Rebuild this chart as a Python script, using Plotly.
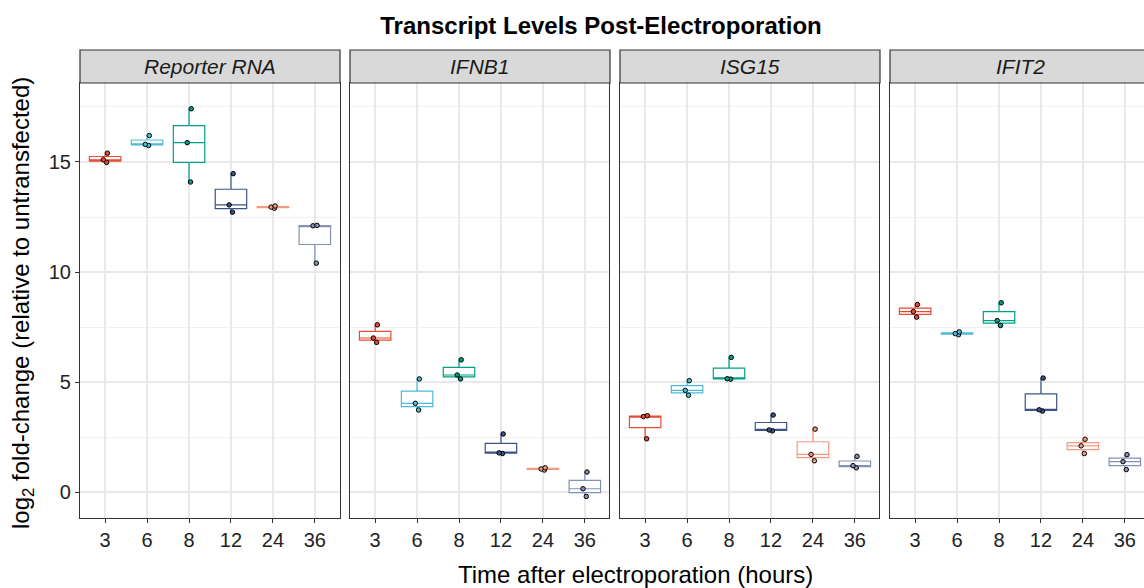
import plotly.graph_objects as go

times = ["3", "6", "8", "12", "24", "36"]
genes = ["Reporter RNA", "IFNB1", "ISG15", "IFIT2"]
colors = ["#E64B35", "#4DBBD5", "#00A087", "#3C5488", "#F39B7F", "#8491B4"]

reporter_rna = [[14.98, 15.1, 15.4], [15.75, 15.8, 16.2], [14.09, 15.88, 17.42],
                [12.72, 13.05, 14.47], [12.9, 12.95, 13.0], [10.4, 12.1, 12.12]]
ifnb1 = [[6.8, 7.0, 7.6], [3.73, 4.03, 5.14], [5.14, 5.32, 6.01],
         [1.75, 1.78, 2.64], [1.0, 1.05, 1.1], [-0.2, 0.15, 0.91]]
isg15 = [[2.42, 3.43, 3.47], [4.4, 4.62, 5.06], [5.13, 5.15, 6.12],
         [2.78, 2.82, 3.5], [1.42, 1.71, 2.86], [1.1, 1.2, 1.62]]
ifit2 = [[7.95, 8.2, 8.52], [7.15, 7.2, 7.28], [7.57, 7.79, 8.6],
         [3.68, 3.74, 5.18], [1.75, 2.1, 2.4], [1.02, 1.38, 1.7]]
gene_data = [reporter_rna, ifnb1, isg15, ifit2]

W, H = 1144, 588
ml, mr, mt, mb = 80, 0, 83, 70
pw = W - ml - mr
ph = H - mt - mb
panel_px = [(80, 340), (350, 609), (620, 879), (890, 1144)]
unit = 260 / 6.2
FONT = "Liberation Sans, Arial, sans-serif"

fig = go.Figure()
for gi, gname in enumerate(genes):
    ax = "" if gi == 0 else str(gi + 1)
    for ti, t in enumerate(times):
        vals = gene_data[gi][ti]
        fig.add_trace(go.Box(
            x=[t] * len(vals), y=vals, name=t,
            xaxis="x" + ax, yaxis="y" + ax,
            width=0.75, whiskerwidth=0, fillcolor="white",
            line=dict(color=colors[ti], width=1.2),
            boxpoints="all", jitter=0.18, pointpos=0, quartilemethod="inclusive",
            marker=dict(color=colors[ti], size=4.5, line=dict(color="black", width=1)),
            showlegend=False, hoverinfo="y",
        ))

layout = dict(
    width=W, height=H,
    margin=dict(l=ml, r=mr, t=mt, b=mb),
    paper_bgcolor="white", plot_bgcolor="white",
    font=dict(family=FONT, color="black"),
    boxmode="overlay",
    title=dict(text="<b>Transcript Levels Post-Electroporation</b>", x=601 / W, xanchor="center",
               y=1 - 26 / H, yanchor="middle", yref="container",
               font=dict(size=24, family=FONT, color="black")),
)

shapes = []
annotations = []
for gi, gname in enumerate(genes):
    ax = "" if gi == 0 else str(gi + 1)
    x0p, x1p = panel_px[gi]
    xr_end = -0.6 + (x1p - x0p) / unit
    layout["xaxis" + ax] = dict(
        domain=[(x0p - ml) / pw, (x1p - ml) / pw], anchor="y" + ax,
        type="category", categoryorder="array", categoryarray=times,
        range=[-0.6, xr_end], showgrid=True, gridcolor="#E9E9E9", gridwidth=1.5,
        showline=True, linecolor="#333333", linewidth=1.2, mirror=True,
        ticks="outside", ticklen=4, tickcolor="#333333", tickwidth=1,
        tickfont=dict(size=20, color="#222222"), zeroline=False,
    )
    layout["yaxis" + ax] = dict(
        domain=[0, 1], anchor="x" + ax, range=[-1.18, 18.59],
        tick0=0, dtick=5, showgrid=True, gridcolor="#E9E9E9", gridwidth=1.5,
        minor=dict(dtick=2.5, showgrid=True, gridcolor="#F1F1F1", gridwidth=0.8),
        showline=True, linecolor="#333333", linewidth=1.2,
        mirror=(gi < 3), zeroline=False,
        ticks="outside" if gi == 0 else "", ticklen=4, tickcolor="#333333",
        showticklabels=(gi == 0), tickfont=dict(size=20, color="#222222"),
        matches="y" if gi > 0 else None,
    )
    strip_h = 33 / ph
    full_x1 = (x0p + 260 - ml) / pw
    shapes.append(dict(type="rect", xref="paper", yref="y" + ax + " domain",
                       x0=(x0p - ml) / pw, x1=min(full_x1, 1.002), y0=1, y1=1 + strip_h,
                       fillcolor="#D9D9D9", line=dict(color="#333333", width=1.2),
                       layer="above"))
    annotations.append(dict(text="<i>" + gname + "</i>", xref="paper", yref="y" + ax + " domain",
                            x=(x0p + 130 - ml) / pw, y=1 + strip_h / 2, showarrow=False,
                            xanchor="center", yanchor="middle",
                            font=dict(size=21, family=FONT, color="#1A1A1A")))

annotations.append(dict(text="log<sub>2</sub> fold-change (relative to untransfected)",
                        xref="paper", yref="paper", x=(22 - ml) / pw, y=(518 - 303) / ph,
                        textangle=-90, showarrow=False, xanchor="center", yanchor="middle",
                        font=dict(size=24, family=FONT, color="black")))
annotations.append(dict(text="Time after electroporation (hours)",
                        xref="paper", yref="paper", x=(635 - ml) / pw, y=-(574 - 518) / ph,
                        showarrow=False, xanchor="center", yanchor="middle",
                        font=dict(size=24, family=FONT, color="black")))

layout["shapes"] = shapes
layout["annotations"] = annotations
fig.update_layout(**layout)
fig.write_html("out.html")
